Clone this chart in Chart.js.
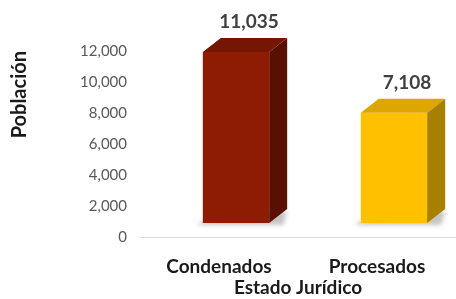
<!DOCTYPE html>
<html>
<head>
<meta charset="utf-8">
<script src="https://cdn.jsdelivr.net/npm/chart.js@4"></script>
<style>
html,body{margin:0;padding:0;background:#fff;}
#wrap{width:456px;height:299px;position:relative;}
</style>
</head>
<body>
<div id="wrap"><canvas id="c" width="456" height="299"></canvas></div>
<script>
const categories = ["Condenados", "Procesados"];
const poblacion = [11035, 7108];
const yTicks = [0, 2000, 4000, 6000, 8000, 10000, 12000];
const frontColors = ["#8E1C02", "#FFC000"];
const topColors = ["#741601", "#DDA600"];
const sideColors = ["#5A1000", "#A88000"];

const FONT = "Lato, 'Open Sans', sans-serif";
const OX = 17, OY = -14, DX = 18, DY = -14;

const bars3d = {
  id: 'bars3d',
  beforeDatasetsDraw(chart) {
    const ctx = chart.ctx;
    const meta = chart.getDatasetMeta(0);
    meta.data.forEach((bar) => {
      const L = bar.x - bar.width / 2 + OX, R = bar.x + bar.width / 2 + OX;
      const b = bar.base + OY;
      ctx.save();
      ctx.fillStyle = 'rgba(90,90,90,0.35)';
      ctx.filter = 'blur(2px)';
      ctx.beginPath();
      ctx.moveTo(L - 6, b + 2);
      ctx.lineTo(R + DX - 4, b + 2);
      ctx.lineTo(R + DX, b + DY + 2);
      ctx.lineTo(L, b - 2);
      ctx.closePath();
      ctx.fill();
      ctx.restore();
    });
    ctx.save();
    ctx.translate(OX, OY);
  },
  afterDatasetsDraw(chart) {
    const ctx = chart.ctx;
    ctx.restore();
    const meta = chart.getDatasetMeta(0);
    meta.data.forEach((bar, i) => {
      const L = bar.x - bar.width / 2 + OX, R = bar.x + bar.width / 2 + OX;
      const t = bar.y + OY, b = bar.base + OY;
      ctx.save();
      ctx.fillStyle = topColors[i];
      ctx.beginPath();
      ctx.moveTo(L, t); ctx.lineTo(R, t); ctx.lineTo(R + DX, t + DY); ctx.lineTo(L + DX, t + DY);
      ctx.closePath(); ctx.fill();
      ctx.fillStyle = sideColors[i];
      ctx.beginPath();
      ctx.moveTo(R, t); ctx.lineTo(R + DX, t + DY); ctx.lineTo(R + DX, b + DY); ctx.lineTo(R, b);
      ctx.closePath(); ctx.fill();
      ctx.fillStyle = '#404040';
      ctx.font = "bold 19px " + FONT;
      ctx.textAlign = 'center';
      ctx.textBaseline = 'middle';
      ctx.fillText(poblacion[i].toLocaleString('en-US'), bar.x + OX + DX / 2 + 4, t + DY - 16);
      ctx.restore();
    });
  }
};

new Chart(document.getElementById('c'), {
  type: 'bar',
  data: {
    labels: categories,
    datasets: [{
      data: poblacion,
      backgroundColor: frontColors,
      borderWidth: 0,
      barPercentage: 0.42,
      categoryPercentage: 1,
      clip: false
    }]
  },
  options: {
    responsive: false,
    animation: false,
    layout: { padding: { top: 51, right: 0, bottom: 0, left: 0 } },
    plugins: { legend: { display: false }, tooltip: { enabled: false } },
    scales: {
      x: {
        grid: { display: false, drawTicks: false },
        border: { display: true, color: '#D9D9D9', width: 1 },
        ticks: { color: '#1a1a1a', font: { family: FONT, size: 19, weight: 'bold' }, padding: 18 },
        title: { display: true, text: 'Estado Jurídico', color: '#1a1a1a', font: { family: FONT, size: 19, weight: 'bold' }, padding: { top: 0, bottom: 0 } },
        afterFit(s) { s.height = 62; }
      },
      y: {
        min: 0, max: 12000,
        afterBuildTicks(s) { s.ticks = yTicks.map(v => ({ value: v })); },
        grid: { display: false, drawTicks: false },
        border: { display: false },
        ticks: { color: '#595959', font: { family: FONT, size: 15 }, padding: 13,
          callback: v => Number(v).toLocaleString('en-US') },
        title: { display: true, text: 'Población', align: 'end', color: '#1a1a1a', font: { family: FONT, size: 20, weight: 'bold' }, padding: { top: 8, bottom: 0 } },
        afterFit(s) { s.width = 140; }
      }
    }
  },
  plugins: [bars3d]
});
</script>
</body>
</html>
